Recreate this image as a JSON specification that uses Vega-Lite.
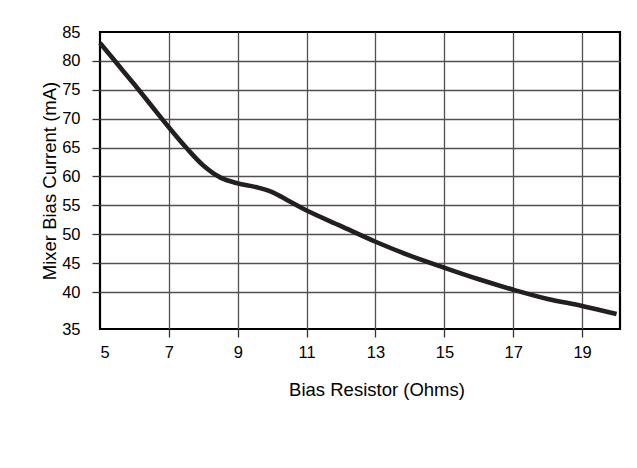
{
  "$schema": "https://vega.github.io/schema/vega-lite/v6.json",
  "width": 520,
  "height": 297,
  "autosize": {"type": "none"},
  "padding": {"left": 100, "top": 32, "right": 17, "bottom": 139},
  "background": "white",
  "config": {
    "view": {"stroke": "black", "strokeWidth": 2.2},
    "axis": {
      "domain": false,
      "grid": true,
      "gridColor": "#505050",
      "gridWidth": 1.3,
      "tickColor": "#333333",
      "tickWidth": 1.3,
      "tickSize": 8,
      "labelFont": "Liberation Sans",
      "labelFontSize": 16.5,
      "labelColor": "black",
      "titleFont": "Liberation Sans",
      "titleFontSize": 18.5,
      "titleFontWeight": "normal",
      "titleColor": "black"
    }
  },
  "data": {
    "values": [
      {"r": 5, "i": 83.1},
      {"r": 5.5, "i": 79.5},
      {"r": 6, "i": 75.9},
      {"r": 6.5, "i": 72.2},
      {"r": 7, "i": 68.5},
      {"r": 7.5, "i": 65.0},
      {"r": 8, "i": 61.9},
      {"r": 8.5, "i": 59.8},
      {"r": 9, "i": 58.8},
      {"r": 9.5, "i": 58.2},
      {"r": 10, "i": 57.3},
      {"r": 10.5, "i": 55.7},
      {"r": 11, "i": 54.1},
      {"r": 12, "i": 51.4},
      {"r": 13, "i": 48.7},
      {"r": 14, "i": 46.3},
      {"r": 15, "i": 44.2},
      {"r": 16, "i": 42.2},
      {"r": 17, "i": 40.4},
      {"r": 18, "i": 38.8},
      {"r": 19, "i": 37.6},
      {"r": 20, "i": 36.2}
    ]
  },
  "mark": {"type": "line", "interpolate": "catmull-rom", "color": "#231f20", "strokeWidth": 4.6, "strokeCap": "butt"},
  "encoding": {
    "x": {
      "field": "r",
      "type": "quantitative",
      "scale": {"domain": [5, 20.1], "nice": false, "zero": false},
      "axis": {
        "values": [5, 7, 9, 11, 13, 15, 17, 19],
        "title": "Bias Resistor (Ohms)",
        "labelPadding": 7,
        "tickOpacity": {"condition": {"test": "datum.value < 6", "value": 0}, "value": 1},
        "gridOpacity": {"condition": {"test": "datum.value < 6", "value": 0}, "value": 1},
        "titleX": 276.5,
        "titleY": 66,
        "titleBaseline": "alphabetic",
        "titleAlign": "center",
        "titleAnchor": null
      }
    },
    "y": {
      "field": "i",
      "type": "quantitative",
      "scale": {"domain": [33.6, 85], "nice": false, "zero": false},
      "axis": {
        "values": [33.6, 40, 45, 50, 55, 60, 65, 70, 75, 80, 85],
        "labelExpr": "datum.value < 35 ? '35' : datum.label",
        "title": "Mixer Bias Current  (mA)",
        "labelPadding": 12,
        "tickOpacity": {"condition": {"test": "datum.value < 35 || datum.value > 84", "value": 0}, "value": 1},
        "gridOpacity": {"condition": {"test": "datum.value < 35 || datum.value > 84", "value": 0}, "value": 1},
        "titleX": -45,
        "titleY": 148.5,
        "titleBaseline": "alphabetic",
        "titleAlign": "center",
        "titleAngle": -90,
        "titleAnchor": null
      }
    }
  }
}
